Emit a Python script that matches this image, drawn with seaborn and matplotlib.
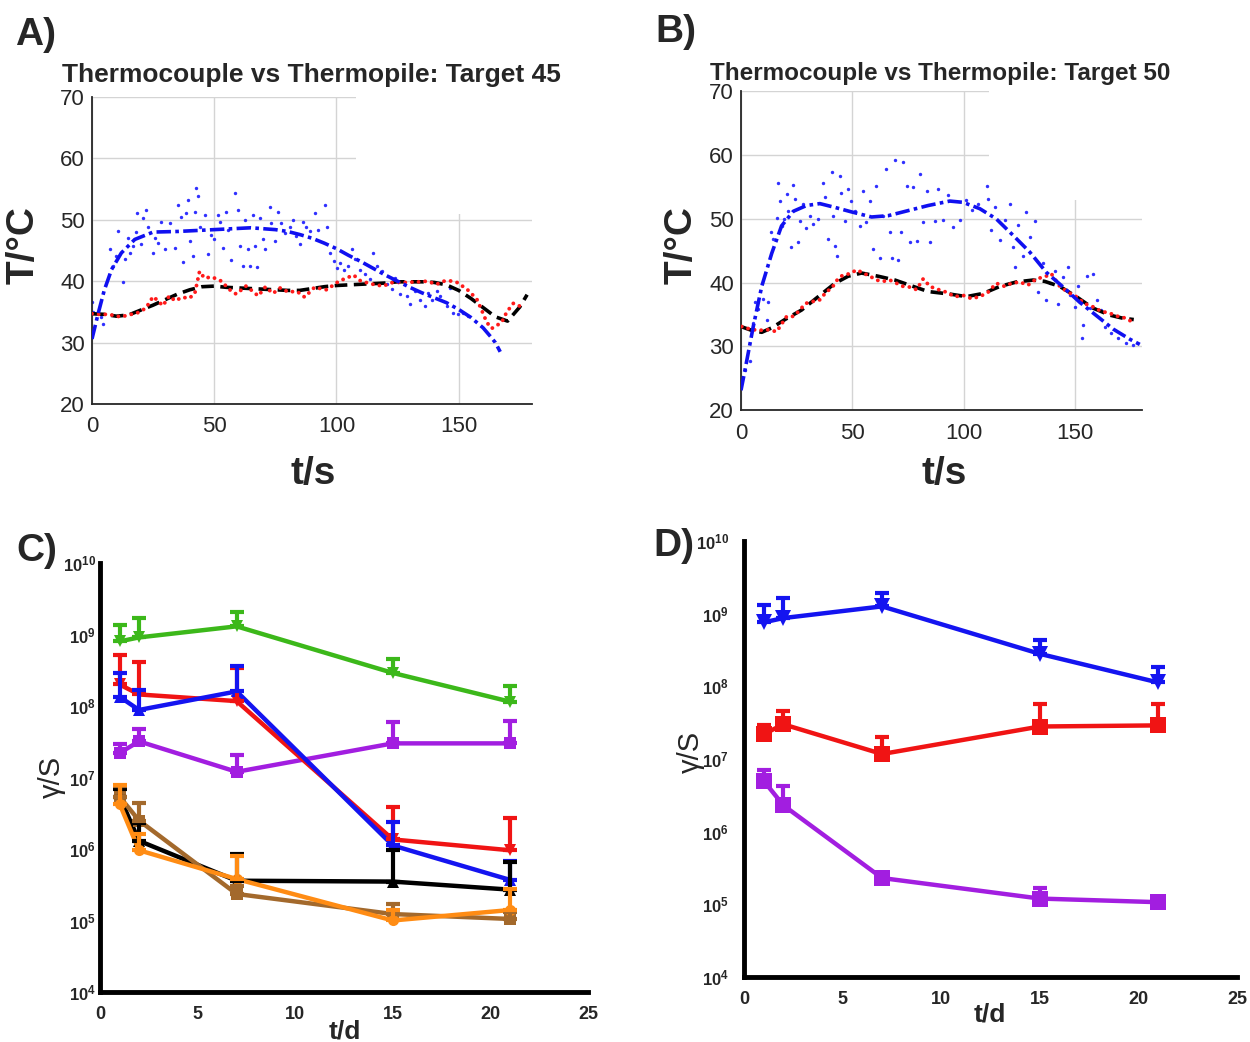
import matplotlib
matplotlib.use('Agg')
import matplotlib.pyplot as plt
import matplotlib.ticker as mticker
from matplotlib.patches import Rectangle
import numpy as np
import pandas as pd
import seaborn as sns

# ---------- panel A : target 45 ----------
a_dot_t = [0, 0.4, 3.8, 4.5, 7.2, 8.6, 10, 10.6, 12.7, 13.4,
           14.7, 15.4, 16.8, 18.2, 18.5, 20.2, 21, 22.2, 23, 25,
           25.7, 27, 28.4, 29.7, 31.8, 33.8, 35.2, 36.3, 37.2, 38.6,
           39.3, 40, 41.3, 42, 42.7, 43.4, 44.1, 46.1, 47.5, 48.8,
           49.9, 51.6, 52.3, 53.6, 55, 55.7, 57, 58.4, 59.7, 60.4,
           61.8, 62.5, 63.8, 64.5, 65.9, 66.6, 67.3, 68.6, 70, 70.7,
           72.7, 73.4, 74.8, 76.1, 77.5, 78.9, 80.9, 82.3, 83.6, 85,
           86.4, 87.7, 89.1, 91.1, 92.6, 95.4, 96.1, 97.5, 98.8, 100.2,
           101.5, 102.9, 104.9, 106.3, 107.6, 109.7, 111.7, 113.8, 115.1, 116.5,
           118.5, 120.6, 122.6, 124, 126, 128.8, 130.1, 132.2, 134.2, 136.2,
           137.6, 139, 141, 142.4, 145.1, 146.5, 147.8, 149.9, 151.9, 154]
a_dot_T = [36.6, 35.0, 34.2, 33.1, 45.2, 42.5, 44.1, 48.1, 39.8, 43.6,
           47.0, 44.6, 45.7, 48.0, 51.1, 46.0, 50.3, 51.6, 48.9, 44.6,
           47.0, 46.2, 49.7, 45.2, 49.4, 45.4, 52.4, 50.5, 43.2, 51.1,
           53.2, 46.5, 44.1, 51.3, 55.1, 53.8, 48.9, 50.8, 44.4, 47.6,
           46.8, 50.8, 49.7, 45.4, 51.3, 48.4, 43.5, 54.3, 51.6, 45.7,
           42.4, 50.0, 45.2, 42.4, 50.8, 45.7, 42.3, 50.3, 46.8, 45.2,
           52.1, 49.4, 46.5, 51.3, 49.4, 47.8, 48.9, 50.0, 47.3, 46.0,
           49.7, 48.9, 48.1, 51.1, 48.4, 52.4, 48.9, 44.6, 43.3, 42.2,
           43.0, 41.9, 42.5, 45.2, 43.6, 41.9, 41.1, 40.3, 44.6, 42.5,
           41.7, 39.5, 38.7, 40.6, 37.9, 37.6, 36.3, 38.4, 37.0, 36.0,
           38.1, 37.0, 38.4, 37.6, 36.0, 38.9, 34.9, 34.6, 34.9, 34.4]
a_red_t = [0, 3, 7, 10, 12, 15, 19, 22, 25, 27,
           29, 31.6, 34, 37, 39.6, 42, 44, 46, 49, 53,
           56, 59, 63, 65, 68, 71, 74, 77, 80, 84,
           87, 91, 96, 101, 107, 110, 115, 119, 123, 128,
           134, 137, 141, 144, 146, 149.3, 153.4, 157.4, 159.5, 161.5,
           163.5, 165.6, 167.6, 169.7, 172.4, 175.8]
a_red_T = [34.7, 34.6, 34.6, 34.3, 34.2, 34.5, 34.9, 35.6, 37.5, 36.8,
           36.0, 37.6, 36.8, 37.4, 37.2, 37.9, 41.6, 40.5, 40.7, 40.0,
           38.7, 37.9, 39.2, 38.6, 37.6, 39.1, 38.0, 38.9, 38.3, 38.3,
           37.4, 39.0, 38.6, 40.0, 41.0, 40.0, 39.5, 39.2, 39.8, 39.8,
           39.9, 40.0, 39.5, 40.0, 40.1, 39.8, 38.7, 37.1, 35.2, 33.3,
           32.3, 32.8, 33.3, 35.0, 36.4, 35.8]
a_blk_t = [0, 5, 10, 15, 20, 25, 30, 35, 40, 45, 50, 55, 60, 65, 70, 75, 80, 85,
           90, 95, 100, 105, 110, 115, 120, 125, 130, 135, 140, 145, 150, 155,
           160, 165, 170, 175, 178]
a_blk_T = [34.7, 34.6, 34.3, 34.5, 35.3, 36.1, 37.0, 37.9, 38.6, 39.1, 39.2, 39.0,
           38.9, 38.8, 38.7, 38.6, 38.5, 38.5, 38.8, 39.1, 39.3, 39.4, 39.5, 39.6,
           39.7, 39.9, 39.9, 39.9, 39.8, 39.4, 38.5, 37.2, 35.7, 34.2, 33.5, 35.8, 37.8]
a_blu_t = [0, 2.5, 5, 8, 12, 17.5, 25, 35, 45, 55, 65, 75, 80, 85, 90, 95, 100,
           105, 110, 115, 120, 125, 130, 135, 140, 145, 150, 155, 160, 163, 165, 167]
a_blu_T = [30.6, 34.7, 38.5, 41.9, 44.6, 46.8, 48.0, 48.1, 48.3, 48.5, 48.7, 48.4,
           48.1, 47.6, 47.0, 46.2, 45.3, 44.2, 43.2, 42.1, 41.0, 40.0, 39.0, 38.1,
           37.3, 36.5, 35.4, 34.1, 32.4, 31.0, 30.0, 28.5]

# ---------- panel B : target 50 ----------
b_dot_t = [1.8, 4.0, 5.5, 6.3, 7.8, 10, 11.5, 12.3, 13.5, 14.5,
           16, 16.7, 17.5, 18.2, 19.4, 20.5, 21.2, 22.4, 23.5, 24.2,
           25.7, 26.5, 28, 29.4, 30.9, 32.4, 34.7, 36.9, 37.7, 39.2,
           40.7, 41.4, 42.2, 42.9, 44.4, 45.1, 46.6, 48.1, 49.6, 51.1,
           53.3, 54.9, 56.3, 57.9, 59.3, 60.8, 62.3, 63.8, 65.3, 66.8,
           67.6, 69.1, 70.6, 71.6, 72.8, 74.3, 75.8, 77.3, 78.8, 80.3,
           81.8, 83.3, 84.8, 87, 88.5, 90.7, 93.0, 95.2, 98.2, 101.2,
           103.5, 106.4, 110.2, 111, 112.4, 114, 116.2, 118.4, 120.7, 122.2,
           122.9, 124.4, 126.6, 128.1, 129.6, 131.9, 133.4, 135.6, 137.1, 138.6,
           140.9, 142.4, 144.6, 146.9, 147.6, 149.9, 151.4, 152.9, 153.6, 155.1,
           156.6, 158.1, 159.6, 161.8, 163.3, 166.3, 169.3, 173, 175.9]
b_dot_T = [26.3, 27.7, 33.6, 37.0, 35.9, 37.5, 34.1, 36.9, 47.9, 46.8,
           50.2, 55.7, 52.8, 48.9, 50.0, 53.9, 51.3, 45.6, 55.4, 53.1,
           46.3, 49.7, 52.3, 48.6, 50.5, 49.2, 50.0, 55.7, 53.4, 46.8,
           57.3, 50.5, 45.8, 44.2, 56.8, 54.1, 49.7, 54.7, 52.8, 51.3,
           48.9, 54.4, 49.5, 52.8, 45.2, 55.2, 43.9, 50.5, 57.8, 47.9,
           43.9, 59.3, 43.6, 47.9, 59.0, 55.2, 46.3, 55.0, 46.5, 57.0,
           49.5, 54.4, 46.3, 49.7, 54.7, 49.9, 53.8, 48.8, 49.8, 53.0,
           51.4, 52.4, 55.1, 53.2, 48.2, 51.8, 46.7, 49.8, 52.4, 45.6,
           42.5, 49.0, 44.1, 51.1, 47.2, 49.6, 38.6, 43.0, 37.2, 39.9,
           41.9, 36.7, 40.9, 42.5, 38.1, 36.2, 39.4, 31.3, 33.4, 41.1,
           36.0, 41.4, 37.2, 35.7, 33.1, 32.1, 31.3, 30.5, 30.2]
b_red_t = [0.3, 4.0, 7.8, 12.3, 16, 17.5, 20.5, 23.5, 26.5, 28.7,
           31.7, 35.4, 38.4, 40.7, 43.7, 45.9, 48.9, 51.9, 54.9, 57.9,
           60.8, 63.8, 66.8, 69.8, 72.8, 75.8, 78.8, 81.8, 84.8, 87.8,
           92.2, 96, 99.7, 103.4, 107.2, 110.9, 114.6, 118.4, 121.4, 125.1,
           128.8, 132.6, 136.3, 139.3, 143.1, 146.8, 150.5, 154.3, 158, 161.7,
           165.5, 169.2, 173, 175.2]
b_red_T = [33.1, 32.7, 32.5, 32.6, 32.3, 33.1, 34.7, 34.7, 35.7, 36.7,
           37.0, 37.3, 38.6, 39.1, 40.7, 41.2, 41.4, 42.0, 41.5, 41.0,
           40.4, 40.2, 40.4, 39.9, 39.4, 39.3, 38.9, 40.6, 39.4, 39.0,
           38.5, 37.8, 38.0, 37.5, 37.8, 38.5, 39.9, 39.4, 39.9, 40.1,
           39.6, 40.6, 40.9, 41.4, 39.4, 38.5, 37.8, 36.7, 36.2, 35.5,
           35.2, 34.7, 34.4, 33.9]
b_blk_t = [0, 4.8, 9.3, 13.8, 19.7, 27.2, 34.7, 42.2, 48.1, 54.1, 61.6, 69.1,
           76.5, 84, 93.7, 101.2, 108.7, 116.2, 123.6, 131.1, 136.3, 143.1, 150.5,
           158, 165.5, 171.5, 176.3]
b_blk_T = [33.1, 32.5, 32.2, 32.9, 34.2, 35.7, 37.8, 39.9, 41.0, 41.5, 41.0, 40.4,
           39.5, 38.6, 38.2, 37.8, 38.3, 39.4, 40.1, 40.4, 40.2, 39.4, 37.8, 36.0,
           34.9, 34.4, 34.2]
b_blu_t = [0, 1.8, 5.5, 9.3, 13.8, 18.2, 23.5, 29.4, 35.4, 42.2, 49.6, 58.6, 66,
           75, 84, 93.7, 99.7, 107.2, 114.6, 122.2, 129.6, 137.1, 144.6, 152.1,
           159.6, 167.1, 174.6, 179]
b_blu_T = [23.1, 26.3, 33.1, 39.4, 44.6, 48.9, 51.2, 52.1, 52.4, 51.8, 51.1, 50.3,
           50.5, 51.3, 52.1, 52.8, 52.6, 51.6, 50.0, 47.4, 44.8, 41.6, 39.3, 36.9,
           34.8, 32.7, 31.1, 30.3]

# ---------- panels C and D : counts vs days ----------
days = [1, 2, 7, 15, 21]

c_series = ['G', 'P', 'R', 'B', 'K', 'Br', 'O']
c_mean = {
    'G': [8.0e8, 9.1e8, 1.3e9, 2.9e8, 1.15e8],
    'R': [2.0e8, 1.45e8, 1.17e8, 1.36e6, 9.6e5],
    'B': [1.35e8, 8.8e7, 1.6e8, 1.12e6, 3.7e5],
    'P': [2.2e7, 3.2e7, 1.2e7, 3.0e7, 3.0e7],
    'K': [5.4e6, 1.3e6, 3.6e5, 3.5e5, 2.7e5],
    'Br': [5.4e6, 2.5e6, 2.35e5, 1.23e5, 1.05e5],
    'O': [4.3e6, 9.6e5, 3.8e5, 1.0e5, 1.4e5],
}
c_upper = {
    'G': [1.36e9, 1.7e9, 2.05e9, 4.6e8, 1.9e8],
    'R': [5.2e8, 4.1e8, 3.4e8, 3.9e6, 2.75e6],
    'B': [2.9e8, 1.67e8, 3.6e8, 2.4e6, 6.9e5],
    'P': [2.95e7, 4.7e7, 2.05e7, 5.9e7, 6.1e7],
    'K': [7.0e6, 2.3e6, 8.6e5, 9.6e5, 6.6e5],
    'Br': [7.5e6, 4.4e6, 3.0e5, 1.7e5, 1.3e5],
    'O': [7.9e6, 1.6e6, 8.1e5, 1.4e5, 2.75e5],
}

d_series = ['B', 'R', 'P']
d_mean = {
    'B': [7.6e8, 8.7e8, 1.26e9, 2.8e8, 1.13e8],
    'R': [2.2e7, 3.0e7, 1.17e7, 2.8e7, 2.9e7],
    'P': [5.0e6, 2.3e6, 2.3e5, 1.2e5, 1.07e5],
}
d_upper = {
    'B': [1.32e9, 1.66e9, 1.95e9, 4.4e8, 1.82e8],
    'R': [2.9e7, 4.6e7, 2.0e7, 5.7e7, 5.8e7],
    'P': [7.1e6, 4.2e6, 2.6e5, 1.7e5, 1.2e5],
}

log_ticks = [1e4, 1e5, 1e6, 1e7, 1e8, 1e9, 1e10]

colors = {'G': '#3cb81a', 'R': '#f01414', 'B': '#1414f0', 'P': '#a21ee0',
          'K': '#000000', 'Br': '#a3692c', 'O': '#ff8c14'}
c_markers = {'G': 'v', 'R': 'v', 'B': '^', 'P': 's', 'K': '^', 'Br': 's', 'O': 'o'}
d_markers = {'B': 'v', 'R': 's', 'P': 's'}

sns.set_style('white')
plt.rcParams['font.family'] = ['Liberation Sans', 'DejaVu Sans']
plt.rcParams['mathtext.fontset'] = 'custom'
plt.rcParams['mathtext.rm'] = 'Liberation Sans'
plt.rcParams['mathtext.bf'] = 'Liberation Sans:bold'


def temp_panel(ax, dot_t, dot_T, red_t, red_T, blk_t, blk_T, blu_t, blu_T, mask):
    ax.set_xlim(0, 180)
    ax.set_ylim(20, 70)
    ax.grid(True, color='#d4d4d4', lw=1.0)
    ax.set_axisbelow(True)
    # part of the matlab grid is hidden in the top right corner
    ax.add_patch(Rectangle(mask, 1 - mask[0], 1 - mask[1], transform=ax.transAxes,
                           facecolor='white', edgecolor='none', zorder=0.8))
    sns.scatterplot(x=dot_t, y=dot_T, ax=ax, color='#3030ff', s=6, linewidth=0, zorder=2)
    sns.lineplot(x=blk_t, y=blk_T, ax=ax, color='black', lw=2.6,
                 linestyle=(0, (3.5, 1.8)), zorder=3)
    sns.lineplot(x=red_t, y=red_T, ax=ax, color='#ff1a1a', lw=2.8,
                 linestyle=(0, (0.01, 1.7)), zorder=4)
    ax.lines[-1].set_dash_capstyle('round')
    sns.lineplot(x=blu_t, y=blu_T, ax=ax, color='#1010f0', lw=2.6,
                 linestyle=(0, (4, 1.2, 1, 1.2)), zorder=5)
    ax.set_xticks([0, 50, 100, 150])
    ax.set_yticks(range(20, 71, 10))
    ax.tick_params(direction='in', length=4, width=1, labelsize=16,
                   labelcolor='#262626', color='#262626')
    ax.tick_params(axis='x', pad=9)
    ax.tick_params(axis='y', pad=5)
    ax.set_xlabel('')
    ax.set_ylabel('')
    sns.despine(ax=ax)
    for s in ['left', 'bottom']:
        ax.spines[s].set_linewidth(1.3)
        ax.spines[s].set_color('#262626')


def count_panel(ax, names, mean, upper, markers, ydir, msize):
    ax.set_yscale('log')
    rows = []
    for n in names:
        for d, v in zip(days, mean[n]):
            rows.append({'day': d, 'value': v, 'series': n})
    df = pd.DataFrame(rows)
    sns.lineplot(data=df, x='day', y='value', hue='series', style='series',
                 hue_order=names, style_order=names,
                 palette=colors, markers=markers, dashes=False, lw=3.2,
                 markersize=msize, mew=0, legend=False, ax=ax)
    for n in names:
        m = np.array(mean[n])
        u = np.array(upper[n])
        ax.errorbar(days, m, yerr=[np.zeros_like(m), u - m], fmt='none',
                    ecolor=colors[n], elinewidth=3, capsize=5, capthick=3, zorder=3)
    ax.set_xlim(0, 25)
    ax.set_ylim(1e4, 1e10)
    ax.set_xticks([0, 5, 10, 15, 20, 25], labels=['0', '5', '10', '15', '20', '25'],
                  fontsize=13, fontweight='bold')
    ax.yaxis.set_major_locator(mticker.FixedLocator(log_ticks))
    ax.yaxis.set_minor_locator(mticker.LogLocator(base=10, subs=np.arange(2, 10), numticks=100))
    ax.yaxis.set_major_formatter(mticker.FuncFormatter(
        lambda v, p: r'$\mathbf{10^{%d}}$' % round(np.log10(v))))
    ax.yaxis.set_minor_formatter(mticker.NullFormatter())
    ax.tick_params(axis='y', which='major', direction=ydir, length=8, width=2.5,
                   labelsize=12, pad=3)
    ax.tick_params(axis='y', which='minor', direction=ydir, length=5, width=2)
    ax.tick_params(axis='x', direction='out', length=6, width=2.5, pad=4)
    ax.set_xlabel('')
    ax.set_ylabel('')
    sns.despine(ax=ax)
    for s in ['left', 'bottom']:
        ax.spines[s].set_linewidth(3.5)
        ax.spines[s].set_color('black')


fig = plt.figure(figsize=(12.5, 10.42), dpi=100)
ax_a = fig.add_axes([0.0736, 0.6123, 0.352, 0.2946])
ax_b = fig.add_axes([0.5928, 0.6065, 0.3208, 0.3057])
ax_c = fig.add_axes([0.08, 0.048, 0.3904, 0.4117])
ax_d = fig.add_axes([0.5952, 0.0624, 0.3944, 0.4184])

temp_panel(ax_a, a_dot_t, a_dot_T, a_red_t, a_red_T, a_blk_t, a_blk_T, a_blu_t, a_blu_T,
           (0.6, 0.62))
temp_panel(ax_b, b_dot_t, b_dot_T, b_red_t, b_red_T, b_blk_t, b_blk_T, b_blu_t, b_blu_T,
           (0.618, 0.658))
count_panel(ax_c, c_series, c_mean, c_upper, c_markers, 'in', 8)
count_panel(ax_d, d_series, d_mean, d_upper, d_markers, 'out', 11)

# panel letters and titles
for x, y, s in [(0.012, 0.9568, 'A)'), (0.524, 0.9597, 'B)'),
                (0.0128, 0.462, 'C)'), (0.523, 0.466, 'D)')]:
    fig.text(x, y, s, fontsize=28, fontweight='bold', ha='left', va='baseline')
fig.text(0.0496, 0.9213, 'Thermocouple vs Thermopile: Target 45', fontsize=19,
         fontweight='bold', ha='left', va='baseline')
fig.text(0.568, 0.9232, 'Thermocouple vs Thermopile: Target 50', fontsize=17.5,
         fontweight='bold', ha='left', va='baseline')

# axis labels
fig.text(0.0192, 0.7649, 'T/°C', rotation=90, fontsize=28, fontweight='bold',
         ha='center', va='center')
fig.text(0.2504, 0.5451, 't/s', fontsize=28, fontweight='bold', ha='center', va='center')
fig.text(0.5456, 0.7649, 'T/°C', rotation=90, fontsize=28, fontweight='bold',
         ha='center', va='center')
fig.text(0.7552, 0.5451, 't/s', fontsize=28, fontweight='bold', ha='center', va='center')
fig.text(0.0416, 0.2543, 'γ/S', rotation=90, fontsize=21, ha='center', va='center')
fig.text(0.276, 0.022, 't/d', fontsize=19, fontweight='bold', ha='center', va='top')
fig.text(0.5525, 0.2783, 'γ/S', rotation=90, fontsize=21, ha='center', va='center')
fig.text(0.792, 0.026, 't/d', fontsize=19, fontweight='bold', ha='center', va='center')

fig.savefig('out.png', dpi=100)
